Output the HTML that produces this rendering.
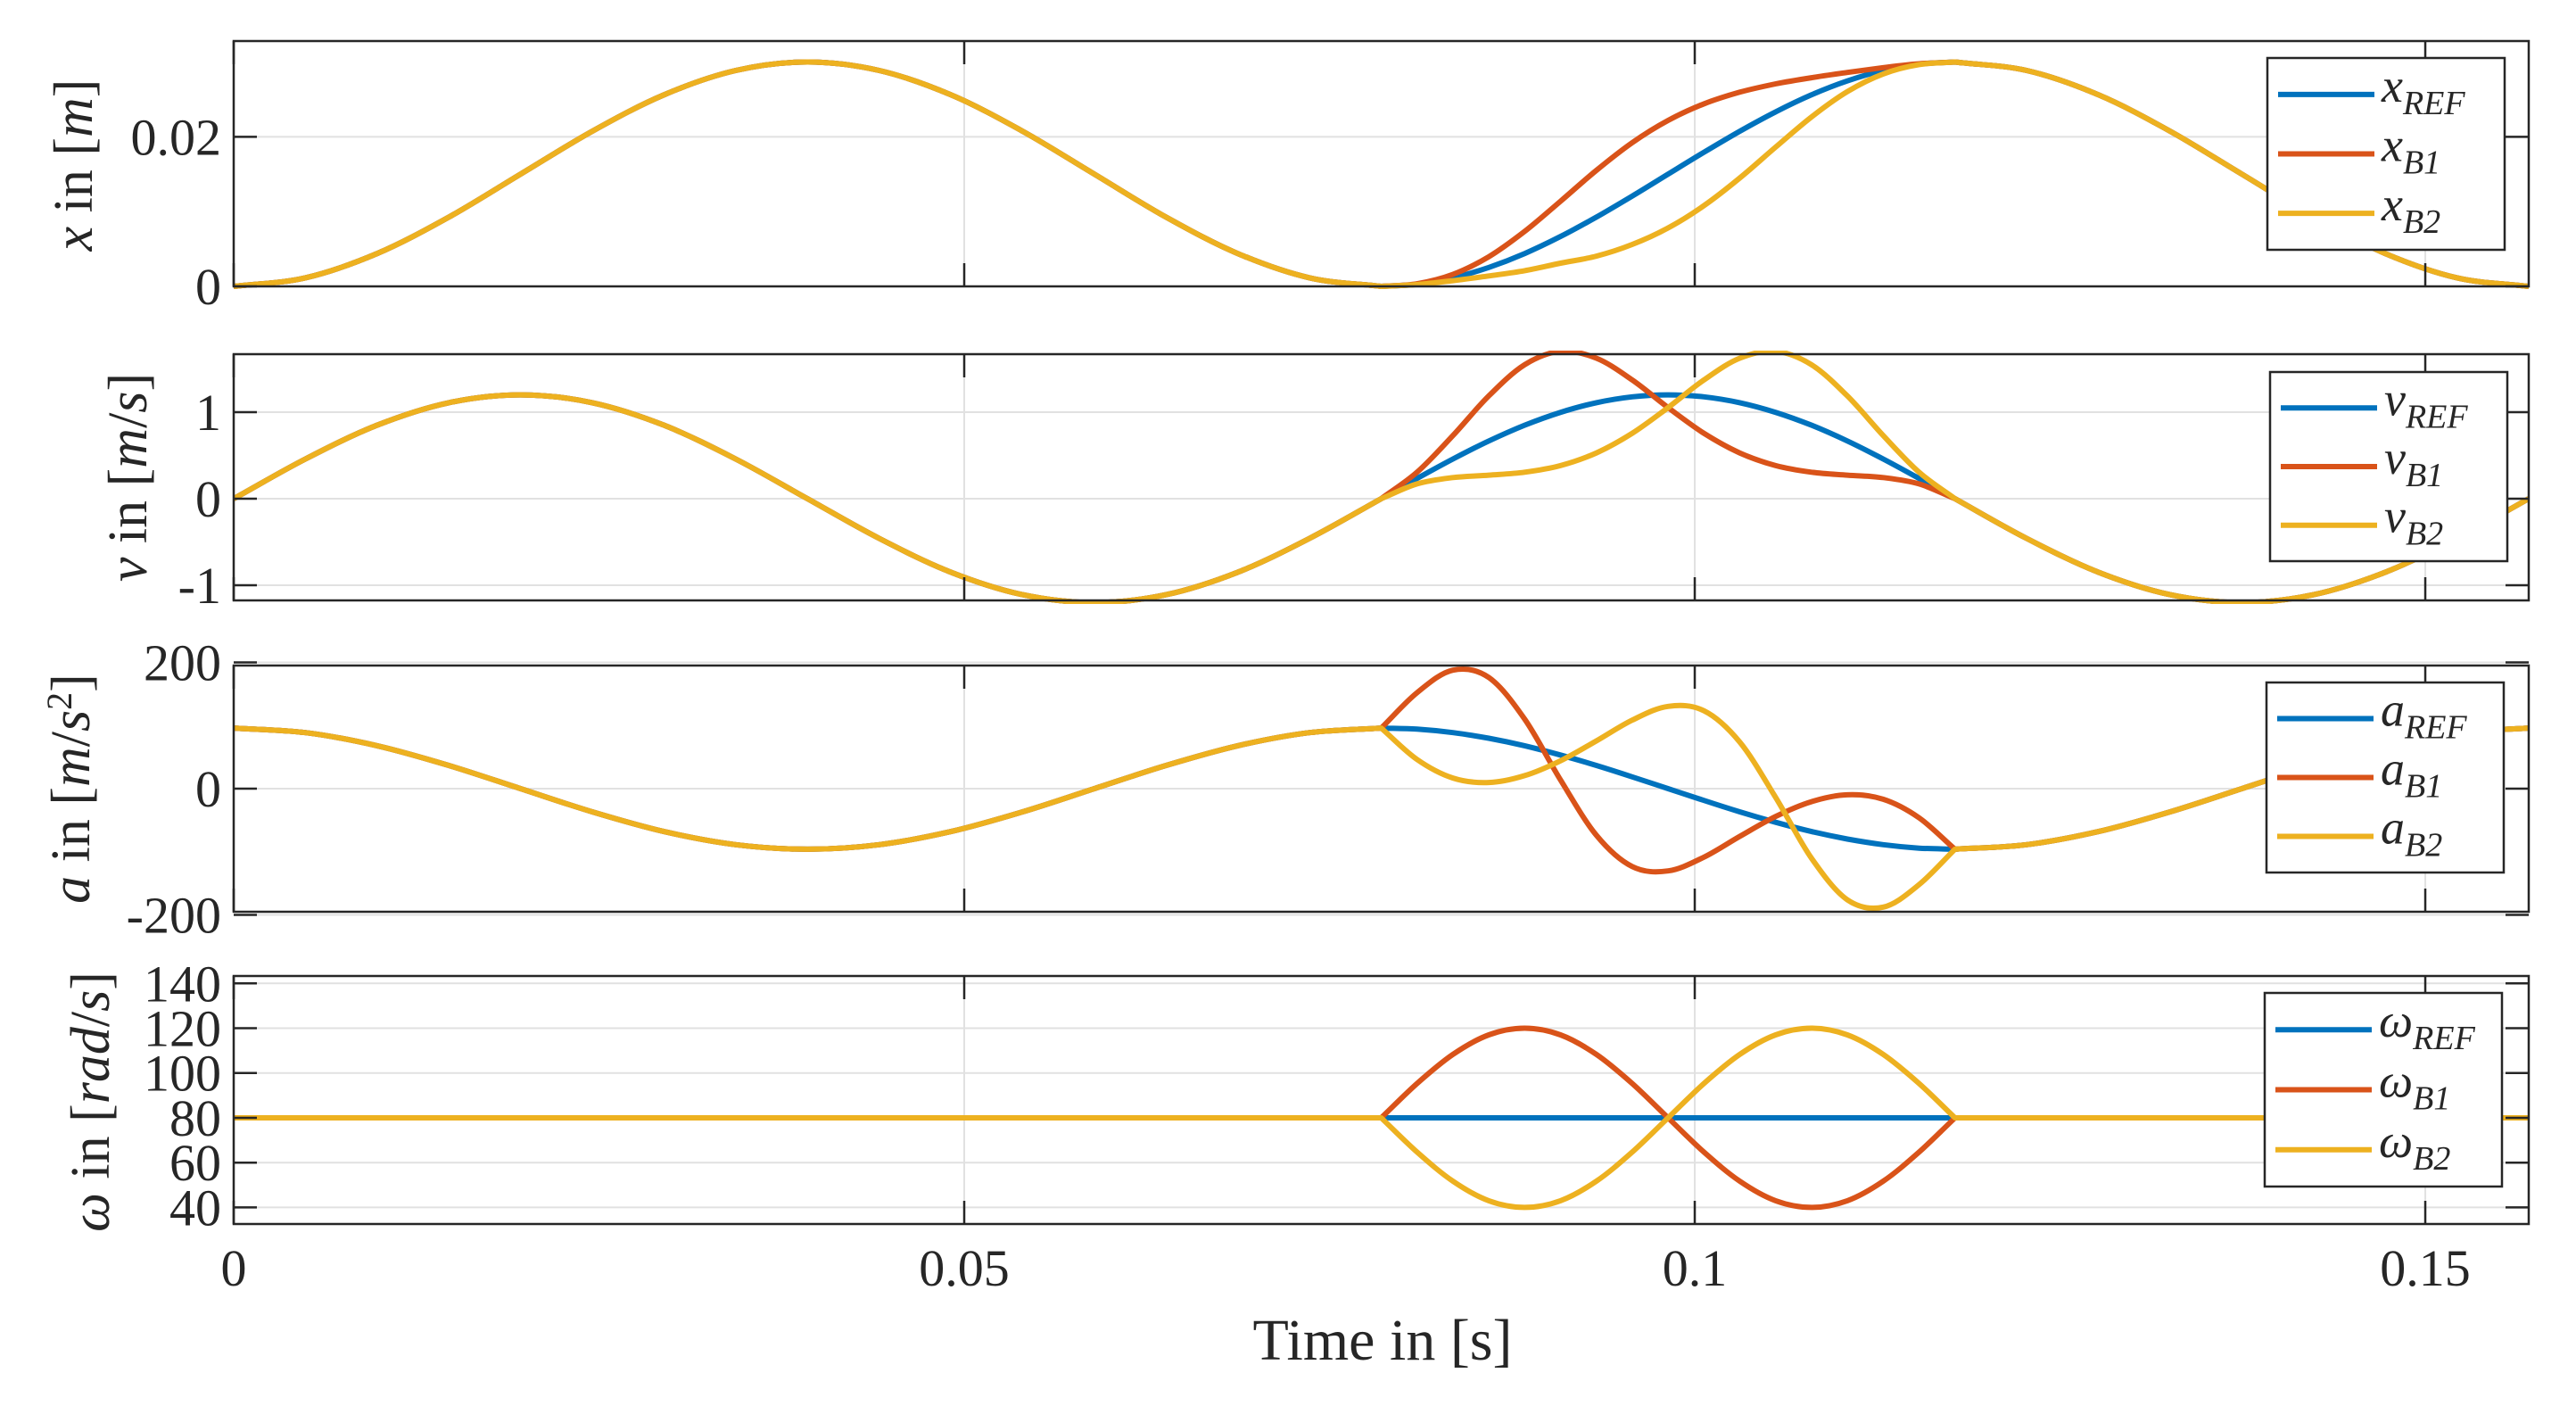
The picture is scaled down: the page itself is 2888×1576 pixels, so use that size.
<!DOCTYPE html>
<html><head><meta charset="utf-8"><style>
html,body{margin:0;padding:0;background:#fff;}
svg{display:block;}
text{font-family:"Liberation Serif",serif;fill:#262626;}
</style></head><body>
<svg id="chart" width="2888" height="1576" viewBox="0 0 2888 1576" xmlns="http://www.w3.org/2000/svg"></svg>
<script>
// ---- data ----
const timeS = [0,.004909,.009817,.014726,.019635,.024544,.029452,.034361,.03927,.044179,.049087,.053996,.058905,.063814,.068722,.073631,.07854,
.080994,.083449,.085903,.088357,.090812,.093266,.095720,.098175,.100629,.103084,.105538,.107992,.110447,.112901,.115355,.11781,
.122718,.127627,.132536,.137445,.142353,.147262,.152171,.15708];
const xBase1 = [0,.00114,.00439,.00926,.015,.02074,.02561,.02886,.03,.02886,.02561,.02074,.015,.00926,.00439,.00114,0];
const xBase2 = [.02886,.02561,.02074,.015,.00926,.00439,.00114,0];
const xRef = xBase1.concat([.00029,.00114,.00253,.00439,.00667,.00926,.01207,.015,.01793,.02074,.02333,.02561,.02747,.02886,.02971,.03],xBase2);
const xB1 = xBase1.concat([.00035,.0016,.00396,.00735,.01138,.01551,.01921,.02219,.0244,.02596,.02707,.0279,.0286,.02924,.02976,.03],xBase2);
const xB2 = xBase1.concat([.00024,.00076,.0014,.0021,.0031,.00404,.0056,.00781,.01079,.01449,.01862,.02265,.02604,.0284,.02965,.03],xBase2);
const vBase1 = [0,.459,.849,1.109,1.2,1.109,.849,.459,0,-.459,-.849,-1.109,-1.2,-1.109,-.849,-.459,0];
const vBase2 = [-.459,-.849,-1.109,-1.2,-1.109,-.849,-.459,0];
const vRef = vBase1.concat([.234,.459,.667,.849,.998,1.109,1.177,1.2,1.177,1.109,.998,.849,.667,.459,.234,0],vBase2);
const vB1 = vBase1.concat([.306,.730,1.188,1.548,1.703,1.624,1.372,1.053,.756,.529,.383,.306,.272,.244,.171,0],vBase2);
const vB2 = vBase1.concat([.171,.244,.272,.306,.383,.529,.756,1.053,1.372,1.624,1.703,1.548,1.188,.730,.306,0],vBase2);
const aBase1 = [96,88.7,67.9,36.7,0,-36.7,-67.9,-88.7,-96,-88.7,-67.9,-36.7,0,36.7,67.9,88.7,96];
const aBase2 = [-88.7,-67.9,-36.7,0,36.7,67.9,88.7,96];
const aRef = aBase1.concat([94.2,88.7,79.8,67.9,53.3,36.7,18.7,0,-18.7,-36.7,-53.3,-67.9,-79.8,-88.7,-94.2,-96],aBase2);
const aB1 = aBase1.concat([152,187.7,176,110.2,13.8,-73.8,-123.4,-130.3,-108.5,-75.6,-44.1,-20.6,-9.7,-16.8,-46.2,-96],aBase2);
const aB2 = aBase1.concat([46.2,16.8,9.7,20.6,44.1,75.6,108.5,130.3,123.4,73.8,-13.8,-110.2,-176,-187.7,-152,-96],aBase2);
const wBase1 = [80,80,80,80,80,80,80,80,80,80,80,80,80,80,80,80,80];
const wBase2 = [80,80,80,80,80,80,80,80];
const wRef = wBase1.concat([80,80,80,80,80,80,80,80,80,80,80,80,80,80,80,80],wBase2);
const wB1 = wBase1.concat([95.3,108.3,117,120,117,108.3,95.3,80,64.7,51.7,43,40,43,51.7,64.7,80],wBase2);
const wB2 = wBase1.concat([64.7,51.7,43,40,43,51.7,64.7,80,95.3,108.3,117,120,117,108.3,95.3,80],wBase2);
const segBreaks = [16,32];
const xTicks = [0,0.05,0.1,0.15];
const xTickLabels = ["0","0.05","0.1","0.15"];
const p1Ticks = [0,0.02], p1Labels = ["0","0.02"];
const p2Ticks = [-1,0,1], p2Labels = ["-1","0","1"];
const p3Ticks = [-200,0,200], p3Labels = ["-200","0","200"];
const p4Ticks = [40,60,80,100,120,140], p4Labels = ["40","60","80","100","120","140"];

const NS = "http://www.w3.org/2000/svg";
const svg = document.getElementById('chart');
const L = 262, R = 2835, X0 = 0, X1 = 0.15708;
const COLORS = ["#0072BD","#D95319","#EDB120"];
function sx(t){ return L + (t - X0) / (X1 - X0) * (R - L); }
function el(tag, attrs, parent){
  const e = document.createElementNS(NS, tag);
  for (const k in attrs) e.setAttribute(k, attrs[k]);
  (parent || svg).appendChild(e);
  return e;
}
function smoothSeg(pts, first){
  let d = first ? "M" + pts[0][0].toFixed(1) + "," + pts[0][1].toFixed(1) : "";
  for (let i = 0; i < pts.length - 1; i++){
    const p1 = pts[i], p2 = pts[i+1];
    const p0 = i > 0 ? pts[i-1] : [2*p1[0]-p2[0], 2*p1[1]-p2[1]];
    const p3 = i+2 < pts.length ? pts[i+2] : [2*p2[0]-p1[0], 2*p2[1]-p1[1]];
    const c1x = p1[0] + (p2[0]-p0[0])/6, c1y = p1[1] + (p2[1]-p0[1])/6;
    const c2x = p2[0] - (p3[0]-p1[0])/6, c2y = p2[1] - (p3[1]-p1[1])/6;
    d += " C" + c1x.toFixed(1) + "," + c1y.toFixed(1) + " " + c2x.toFixed(1) + "," + c2y.toFixed(1) + " " + p2[0].toFixed(1) + "," + p2[1].toFixed(1);
  }
  return d;
}
function smoothPath(pts){
  const idx = [0].concat(segBreaks, [pts.length-1]);
  let d = "";
  for (let s = 0; s < idx.length-1; s++) d += smoothSeg(pts.slice(idx[s], idx[s+1]+1), s === 0);
  return d;
}
function panel(cfg){
  const g = el('g', {});
  
  
  const sy = v => cfg.bottom - (v - cfg.ymin) / (cfg.ymax - cfg.ymin) * (cfg.bottom - cfg.top);
  cfg.ticks.forEach(v => {
    const gl = el('line', {x1:L, x2:R, y1:sy(v), y2:sy(v), stroke:"#e1e1e1", "stroke-width":2}, g);
    
    
  });
  xTicks.forEach(t => {
    const gl = el('line', {x1:sx(t), x2:sx(t), y1:cfg.top, y2:cfg.bottom, stroke:"#e1e1e1", "stroke-width":2}, g);
    
    
  });
  const clipId = 'clip-' + cfg.name;
  const cp = el('clipPath', {id: clipId}, g);
  el('rect', {x:L, y:cfg.top-4, width:R-L, height:cfg.bottom-cfg.top+8}, cp);
  cfg.series.forEach((s, i) => {
    const pts = timeS.map((t, k) => [sx(t), sy(s[k])]);
    const p = el('path', {d: smoothPath(pts),
      fill:"none", stroke:COLORS[i], "stroke-width":6, "stroke-linejoin":"round", "clip-path":"url(#"+clipId+")"}, g);
    
    
  });
  const box = el('rect', {x:L, y:cfg.top, width:R-L, height:cfg.bottom-cfg.top, fill:"none", stroke:"#262626", "stroke-width":2.5}, g);
  
  
  cfg.ticks.forEach((v, i) => {
    el('line', {x1:L, x2:L+26, y1:sy(v), y2:sy(v), stroke:"#262626", "stroke-width":2.5}, g);
    el('line', {x1:R-26, x2:R, y1:sy(v), y2:sy(v), stroke:"#262626", "stroke-width":2.5}, g);
    const tx = el('text', {x:L-14, y:sy(v)+20, "text-anchor":"end", "font-size":58}, g);
    tx.textContent = cfg.labels[i];
    
    
  });
  xTicks.forEach(t => {
    el('line', {x1:sx(t), x2:sx(t), y1:cfg.bottom, y2:cfg.bottom-26, stroke:"#262626", "stroke-width":2.5}, g);
    el('line', {x1:sx(t), x2:sx(t), y1:cfg.top, y2:cfg.top+26, stroke:"#262626", "stroke-width":2.5}, g);
  });
  const yt = el('text', {transform:"translate("+cfg.tx+","+cfg.ty+") rotate(-90)", "text-anchor":"middle", "font-size":62}, g);
  yt.innerHTML = cfg.title;
  
  
  const lg = el('g', {}, g);
  
  
  el('rect', {x:cfg.lx, y:cfg.ly, width:266, height:cfg.lh, fill:"#fff", stroke:"#262626", "stroke-width":2.5}, lg);
  const subs = ["REF","B1","B2"];
  subs.forEach((sb, i) => {
    const yy = cfg.ly + cfg.lh*(0.19 + 0.31*i);
    const ll = el('line', {x1:cfg.lx+12, x2:cfg.lx+120, y1:yy, y2:yy, stroke:COLORS[i], "stroke-width":6}, lg);
    
    
    const lt = el('text', {x:cfg.lx+128, y:yy+8, "font-size":54, "font-style":"italic"}, lg);
    lt.innerHTML = cfg.sym + '<tspan dy="14" font-size="38">' + sb + '</tspan>';
    
    
  });
}
panel({name:"position", top:46, bottom:321, ymin:0, ymax:0.0328, ticks:p1Ticks, labels:p1Labels,
  series:[xRef,xB1,xB2], keys:["ref","b1","b2"], tx:103, ty:185, sym:"x",
  title:'<tspan font-style="italic">x</tspan> in [<tspan font-style="italic">m</tspan>]', lx:2542, ly:65, lh:215});
panel({name:"velocity", top:397, bottom:673, ymin:-1.175, ymax:1.67, ticks:p2Ticks, labels:p2Labels,
  series:[vRef,vB1,vB2], keys:["ref","b1","b2"], tx:164, ty:535, sym:"v",
  title:'<tspan font-style="italic">v</tspan> in [<tspan font-style="italic">m</tspan>/<tspan font-style="italic">s</tspan>]', lx:2545, ly:417, lh:212});
panel({name:"acceleration", top:746, bottom:1022, ymin:-195, ymax:195, ticks:p3Ticks, labels:p3Labels,
  series:[aRef,aB1,aB2], keys:["ref","b1","b2"], tx:100, ty:884, sym:"a",
  title:'<tspan font-style="italic">a</tspan> in [<tspan font-style="italic">m</tspan>/<tspan font-style="italic">s</tspan><tspan dy="-20" font-size="40">2</tspan><tspan dy="20">]</tspan>', lx:2541, ly:765, lh:213});
panel({name:"angular-velocity", top:1094, bottom:1372, ymin:32.6, ymax:143.3, ticks:p4Ticks, labels:p4Labels,
  series:[wRef,wB1,wB2], keys:["ref","b1","b2"], tx:122, ty:1235, sym:"ω",
  title:'<tspan font-style="italic">ω</tspan> in [<tspan font-style="italic">rad</tspan>/<tspan font-style="italic">s</tspan>]', lx:2539, ly:1113, lh:217});
xTicks.forEach((t, i) => {
  const tx = el('text', {x:sx(t), y:1441, "text-anchor":"middle", "font-size":58});
  tx.textContent = xTickLabels[i];
  
  
});
const xt = el('text', {x:1550, y:1524, "text-anchor":"middle", "font-size":66});
xt.textContent = "Time in [s]";


</script>
</body></html>
